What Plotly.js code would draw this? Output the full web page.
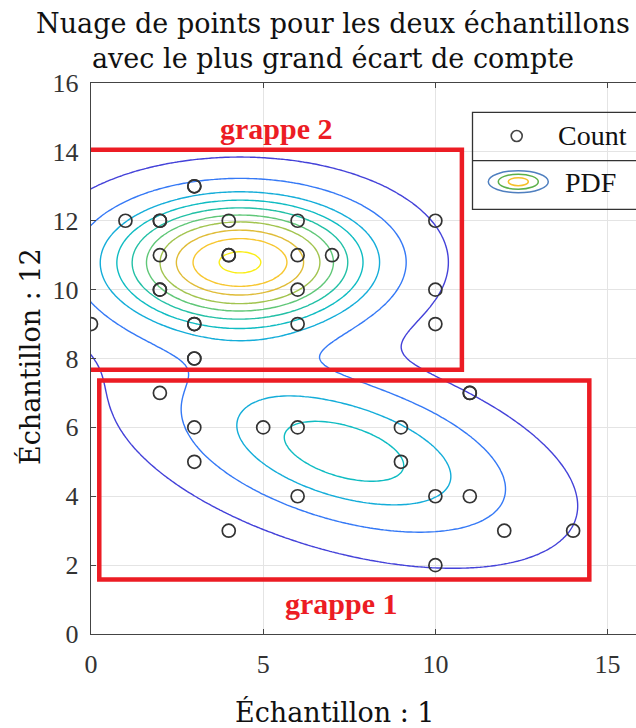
<!DOCTYPE html>
<html><head><meta charset="utf-8">
<script src="https://cdn.plot.ly/plotly-3.0.1.min.js"></script>
<style>html,body{margin:0;padding:0;overflow:hidden;background:#fff}</style>
</head><body><div id="chart"></div>
<script>
// ---- data: observed counts (échantillon 1, échantillon 12) ----
const grappe2X = [0, 1, 2, 2, 2, 2, 2, 3, 3, 3, 3, 3, 3, 4, 4, 4, 6, 6, 6, 6, 7, 10, 10, 10];
const grappe2Y = [9, 12, 12, 12, 11, 10, 10, 13, 13, 9, 9, 8, 8, 12, 11, 11, 12, 11, 10, 9, 11, 12, 10, 9];
const grappe1X = [2, 3, 3, 4, 5, 6, 6, 9, 9, 10, 10, 11, 11, 11, 12, 14];
const grappe1Y = [7, 6, 5, 3, 6, 6, 4, 6, 5, 4, 2, 7, 7, 4, 3, 3];

// ---- fitted Gaussian mixture (PDF) parameters ----
const pdfWeights = [0.408, 0.592];
const pdfMeans = [[7.35, 5.3], [4.33, 10.8]];
const pdfCovs = [[[12.0, -2.8], [-2.8, 3.0]], [[6.65, 0.0], [0.0, 1.69]]];
const pdfLevels = [0.0018, 0.0049, 0.0082, 0.0108, 0.0135, 0.0162, 0.0188, 0.0218, 0.0245, 0.0274];

// ---- text ----
const titleText = 'Nuage de points pour les deux échantillons<br>avec le plus grand écart de compte';
const xTitle = 'Échantillon : 1';
const yTitle = 'Échantillon : 12';
const xTicks = [0, 5, 10, 15];
const yTicks = [0, 2, 4, 6, 8, 10, 12, 14, 16];
const legendLabels = ['Count', 'PDF'];
const clusterLabels = ['grappe 2', 'grappe 1'];

// parula colormap stops
const parula = [
  [0.0, [62, 38, 168]], [0.1, [72, 82, 244]], [0.2, [46, 135, 247]], [0.3, [18, 177, 214]],
  [0.4, [14, 190, 190]], [0.5, [40, 192, 160]], [0.6, [115, 201, 107]], [0.7, [184, 194, 66]],
  [0.8, [237, 186, 51]], [0.9, [252, 205, 48]], [1.0, [249, 251, 14]]
];
function parulaAt(f) {
  f = Math.max(0, Math.min(1, f));
  for (let i = 0; i < parula.length - 1; i++) {
    const a = parula[i], b = parula[i + 1];
    if (f <= b[0]) {
      const t = (f - a[0]) / (b[0] - a[0]);
      const c = a[1].map((v, k) => Math.round(v + t * (b[1][k] - v)));
      return 'rgb(' + c.join(',') + ')';
    }
  }
  return 'rgb(249,251,14)';
}

// mixture pdf on a grid
function gauss(x, y, m, S) {
  const det = S[0][0] * S[1][1] - S[0][1] * S[1][0];
  const dx = x - m[0], dy = y - m[1];
  const q = (S[1][1] * dx * dx - 2 * S[0][1] * dx * dy + S[0][0] * dy * dy) / det;
  return Math.exp(-0.5 * q) / (2 * Math.PI * Math.sqrt(det));
}
const gx = [], gy = [];
for (let i = 0; i <= 200; i++) gx.push(-2 + i * 0.1);
for (let j = 0; j <= 200; j++) gy.push(-2 + j * 0.1);
let zmax = 0;
const gz = gy.map(y => gx.map(x => {
  let v = 0;
  for (let k = 0; k < pdfWeights.length; k++) v += pdfWeights[k] * gauss(x, y, pdfMeans[k], pdfCovs[k]);
  if (v > zmax) zmax = v;
  return v;
}));

// geometry helpers (plot area l=91, t=83, 551x551)
const L = 91, T = 83, W = 551, H = 551;
const px = v => (v - L) / W;
const py = v => (T + H - v) / H;

const traces = pdfLevels.map((lev, i) => ({
  type: 'contour', x: gx, y: gy, z: gz, showscale: false, hoverinfo: 'skip',
  contours: {coloring: 'none', start: lev, end: lev, size: 1},
  line: {width: 1.4, smoothing: 1, color: parulaAt(lev / zmax)},
  name: legendLabels[1] + ' ' + (i + 1), showlegend: false
}));
traces.push({type: 'scatter', mode: 'markers', x: grappe2X.concat(grappe1X), y: grappe2Y.concat(grappe1Y),
  marker: {symbol: 'circle-open', size: 13, color: '#333', line: {width: 1.7, color: '#333'}},
  name: legendLabels[0], showlegend: false});

const red = '#ec1c24';
const shapes = [
  {type: 'rect', xref: 'x', yref: 'y', x0: -0.08, x1: 10.77, y0: 7.67, y1: 14.06, line: {color: red, width: 4.5}},
  {type: 'rect', xref: 'x', yref: 'y', x0: 0.24, x1: 14.47, y0: 1.58, y1: 7.36, line: {color: red, width: 4.5}},
  // legend box
  {type: 'rect', xref: 'paper', yref: 'paper', x0: px(472.5), x1: px(720), y0: py(209.3), y1: py(112.3), line: {color: '#333', width: 1.3}},
  {type: 'line', xref: 'paper', yref: 'paper', x0: px(472.5), x1: px(720), y0: py(160.7), y1: py(160.7), line: {color: '#333', width: 1.3}},
  {type: 'circle', xref: 'paper', yref: 'paper', x0: px(511.2), x1: px(522.2), y0: py(141.5), y1: py(130.5), line: {color: '#444', width: 1.6}},
  {type: 'circle', xref: 'paper', yref: 'paper', x0: px(488.3), x1: px(548.3), y0: py(192.7), y1: py(170.7), line: {color: '#4f7fbf', width: 1.5}},
  {type: 'circle', xref: 'paper', yref: 'paper', x0: px(498.3), x1: px(538.3), y0: py(189.2), y1: py(174.2), line: {color: '#5cb04a', width: 1.5}},
  {type: 'circle', xref: 'paper', yref: 'paper', x0: px(508.3), x1: px(528.3), y0: py(185.7), y1: py(177.7), line: {color: '#f5c02a', width: 1.5}}
];

const serif = 'Liberation Serif, Times New Roman, serif';
const cm = 'DejaVu Serif, serif';
const ann = (text, x, y, font, extra) => Object.assign({text: text, xref: 'paper', yref: 'paper', x: px(x), y: py(y),
  xanchor: 'center', yanchor: 'middle', showarrow: false, font: font}, extra || {});
const annotations = [
  ann(clusterLabels[0], 276.7, 128, {family: serif, size: 30, color: red, weight: 'bold'}),
  ann(clusterLabels[1], 341.7, 603, {family: serif, size: 30, color: red, weight: 'bold'}),
  ann(legendLabels[0], 556, 136, {family: serif, size: 28, color: '#111'}, {xanchor: 'left'}),
  ann(legendLabels[1], 563, 183, {family: serif, size: 28, color: '#111'}, {xanchor: 'left'}),
  ann(xTitle, 334.5, 712, {family: cm, size: 27, color: '#111'}),
  ann(yTitle, 30, 357, {family: cm, size: 27, color: '#111'}, {textangle: -90})
];

const axisCommon = {showline: true, linecolor: '#444', linewidth: 1.3, mirror: 'ticks', ticks: 'inside',
  ticklen: 5, tickcolor: '#444', showgrid: true, gridcolor: '#e4e4e4', gridwidth: 1, zeroline: false,
  tickfont: {family: serif, size: 26, color: '#333'}, tickmode: 'array'};

const layout = {
  width: 652, height: 728,
  margin: {l: L, r: 652 - L - W, t: T, b: 728 - T - H},
  paper_bgcolor: '#fff', plot_bgcolor: '#fff',
  showlegend: false,
  title: {text: titleText, x: 333 / 652, xref: 'container', xanchor: 'center', y: 1 - 33 / 728, yref: 'container', yanchor: 'top',
    font: {family: cm, size: 27, color: '#111'}},
  xaxis: Object.assign({}, axisCommon, {range: [0, 16], tickvals: xTicks, ticktext: xTicks.map(String), ticklabelstandoff: 6}),
  yaxis: Object.assign({}, axisCommon, {range: [0, 16], tickvals: yTicks, ticktext: yTicks.map(String), ticklabelstandoff: 6}),
  shapes: shapes,
  annotations: annotations
};

Plotly.newPlot('chart', traces, layout, {displayModeBar: false, staticPlot: true});
</script>
</body></html>
